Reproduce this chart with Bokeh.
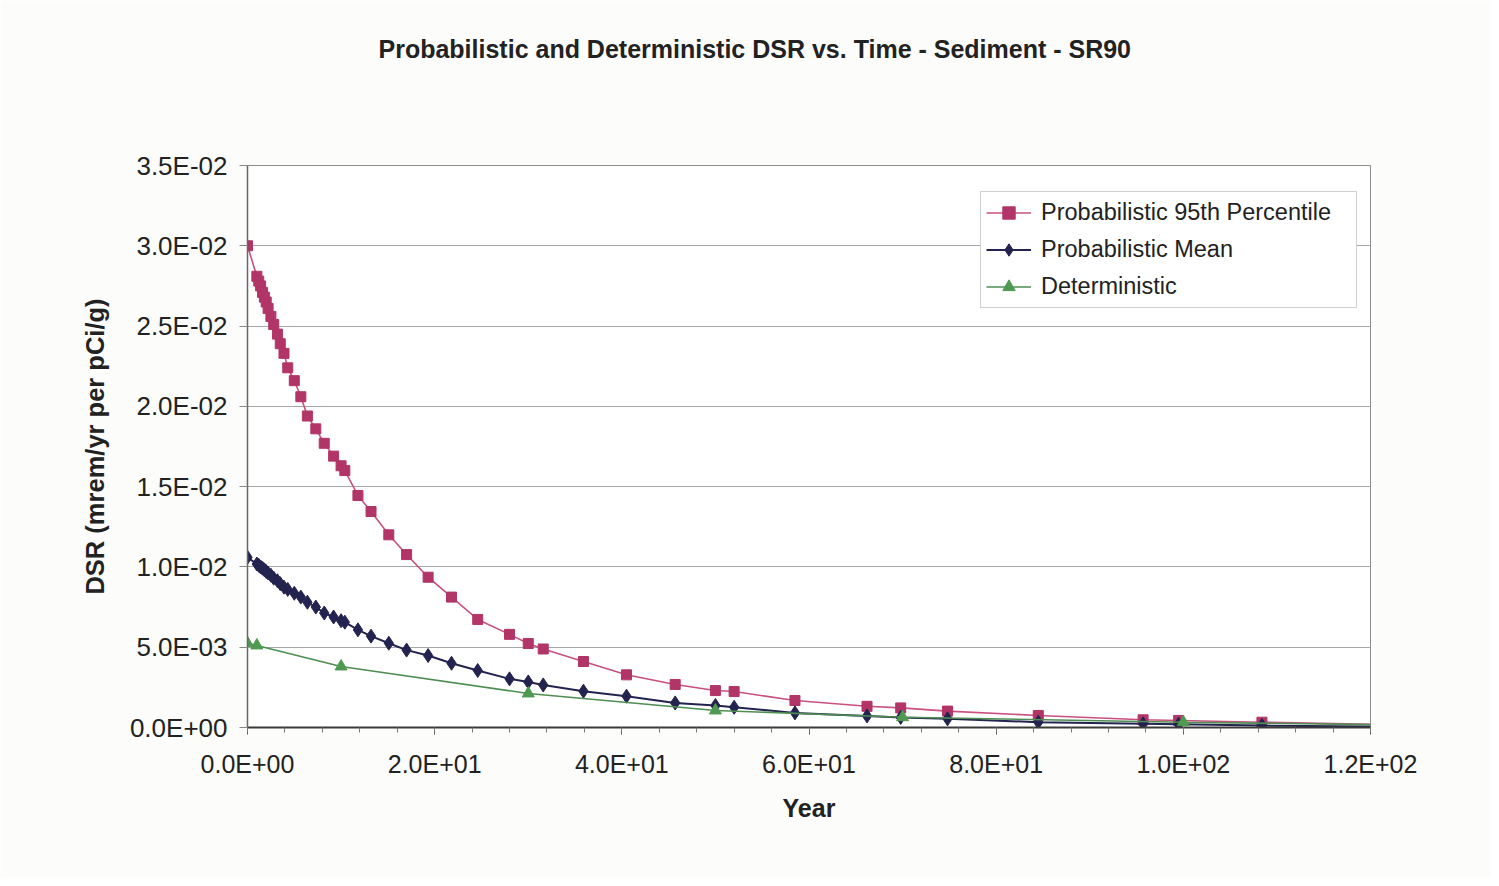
from bokeh.plotting import figure
from bokeh.models import (Range1d, FixedTicker, CustomJSTickFormatter, Legend, LegendItem, Title)
from bokeh.embed import file_html
from bokeh.resources import INLINE

# ---------------- data ----------------
title_text = "Probabilistic and Deterministic DSR vs. Time - Sediment - SR90"
x_label = "Year"
y_label = "DSR (mrem/yr per pCi/g)"
series_names = ["Probabilistic 95th Percentile", "Probabilistic Mean", "Deterministic"]

t_prob = [0, 1.0, 1.2, 1.4, 1.6, 1.8, 2.0, 2.2, 2.5, 2.8, 3.2, 3.5, 3.9, 4.3, 5.0, 5.7,
          6.4, 7.3, 8.2, 9.2, 10.0, 10.4, 11.8, 13.2, 15.1, 17.0, 19.3, 21.8, 24.6, 28.0,
          30.0, 31.6, 35.9, 40.5, 45.7, 50.0, 52.0, 58.5, 66.2, 69.8, 74.8, 84.5, 95.7,
          99.5, 108.4, 120]
p95 = [0.0300, 0.0281, 0.0278, 0.0275, 0.0271, 0.0268, 0.0265, 0.0261, 0.0256, 0.0251,
       0.0245, 0.0239, 0.0233, 0.0224, 0.0216, 0.0206, 0.0194, 0.0186, 0.0177, 0.0169,
       0.0163, 0.0160, 0.01445, 0.01345, 0.0120, 0.01077, 0.00936, 0.00812, 0.00673,
       0.00580, 0.00523, 0.00489, 0.00411, 0.00328, 0.00268, 0.00230, 0.00224, 0.00168,
       0.00132, 0.00122, 0.00102, 0.00075, 0.00048, 0.00044, 0.00033, 0.00020]
pmean = [0.01060, 0.01018, 0.01010, 0.01000, 0.00992, 0.00982, 0.00972, 0.00962, 0.00948,
         0.00930, 0.00914, 0.00896, 0.00874, 0.00860, 0.00836, 0.00812, 0.00780, 0.00750,
         0.00713, 0.00688, 0.00665, 0.00656, 0.00608, 0.00569, 0.00525, 0.00482, 0.00448,
         0.00400, 0.00355, 0.00303, 0.00284, 0.00265, 0.00226, 0.00195, 0.00153, 0.00137,
         0.00126, 0.00091, 0.00072, 0.00063, 0.00054, 0.00033, 0.00023, 0.00020, 0.00012,
         0.00006]
t_det = [0, 1, 10, 30, 50, 70, 100, 120]
det = [0.00525, 0.00511, 0.00380, 0.00212, 0.00106, 0.00064, 0.00033, 0.00018]

x_ticks = [0, 20, 40, 60, 80, 100, 120]
x_tick_labels = ["0.0E+00", "2.0E+01", "4.0E+01", "6.0E+01", "8.0E+01", "1.0E+02", "1.2E+02"]
y_ticks = [0.0, 0.005, 0.01, 0.015, 0.02, 0.025, 0.03, 0.035]
y_tick_labels = ["0.0E+00", "5.0E-03", "1.0E-02", "1.5E-02", "2.0E-02", "2.5E-02", "3.0E-02", "3.5E-02"]

# ---------------- styling ----------------
FONT = "Liberation Sans"
RED_LINE, RED_MARK = "#c9507f", "#b23567"
BLUE = "#23234f"
GREEN_LINE, GREEN_MARK = "#4e8e52", "#4f9a50"

p = figure(width=1491, height=878, output_backend="svg", toolbar_location=None,
           x_range=Range1d(0, 120), y_range=Range1d(0, 0.035),
           min_border_left=247, min_border_right=121, min_border_top=165, min_border_bottom=151)
p.background_fill_color = "white"
p.border_fill_color = "#fcfcfb"
p.outline_line_color = "#8c8c8c"
p.outline_line_width = 1

# title (outermost), with an empty spacer title between it and the frame
p.title.text = title_text
p.title.text_font = FONT
p.title.text_font_style = "bold"
p.title.text_font_size = "25px"
p.title.text_color = "#222222"
p.title.align = "left"
p.title.offset = 131
p.title.vertical_align = "top"
p.title.standoff = 68
spacer = Title(text=" ", text_font=FONT, text_font_size="25px", standoff=37)
p.add_layout(spacer, "above")

# grid
p.xgrid.grid_line_color = None
p.ygrid.grid_line_color = "#a6a6a6"
p.ygrid.grid_line_width = 1
p.ygrid.ticker = FixedTicker(ticks=y_ticks)

fmt_code = """
const i = tk.findIndex(t => Math.abs(t - tick) < 1e-9);
return i >= 0 ? lb[i] : '';
"""

# x axis
p.xaxis.ticker = FixedTicker(ticks=x_ticks, minor_ticks=list(range(0, 121, 4)))
p.xaxis.formatter = CustomJSTickFormatter(args=dict(tk=x_ticks, lb=x_tick_labels), code=fmt_code)
p.xaxis.axis_line_color = "#3a3a3a"
p.xaxis.axis_line_width = 2
p.xaxis.major_tick_line_color = "#555555"
p.xaxis.major_tick_in = 0
p.xaxis.major_tick_out = 7
p.xaxis.minor_tick_line_color = "#777777"
p.xaxis.minor_tick_in = 0
p.xaxis.minor_tick_out = 5
p.xaxis.major_label_text_font = FONT
p.xaxis.major_label_text_font_size = "25px"
p.xaxis.major_label_text_color = "#222222"
p.xaxis.major_label_standoff = 15
p.xaxis.axis_label = x_label
p.xaxis.axis_label_text_font = FONT
p.xaxis.axis_label_text_font_style = "bold"
p.xaxis.axis_label_text_font_size = "25px"
p.xaxis.axis_label_text_color = "#222222"
p.xaxis.axis_label_standoff = 13

# y axis
p.yaxis.ticker = FixedTicker(ticks=y_ticks)
p.yaxis.formatter = CustomJSTickFormatter(args=dict(tk=y_ticks, lb=y_tick_labels), code=fmt_code)
p.yaxis.axis_line_color = "#666666"
p.yaxis.axis_line_width = 1.5
p.yaxis.major_tick_line_color = "#888888"
p.yaxis.major_tick_in = 0
p.yaxis.major_tick_out = 8
p.yaxis.minor_tick_line_color = None
p.yaxis.major_label_text_font = FONT
p.yaxis.major_label_text_font_size = "26px"
p.yaxis.major_label_text_color = "#222222"
p.yaxis.major_label_standoff = 12
p.yaxis.axis_label = y_label
p.yaxis.axis_label_text_font = FONT
p.yaxis.axis_label_text_font_style = "bold"
p.yaxis.axis_label_text_font_size = "25.5px"
p.yaxis.axis_label_text_color = "#222222"
p.yaxis.axis_label_standoff = 18

# series
r1l = p.line(t_prob, p95, line_color=RED_LINE, line_width=1.6)
r1m = p.scatter(t_prob[:-1], p95[:-1], marker="square", size=10, fill_color=RED_MARK,
                line_color=RED_MARK)
r2l = p.line(t_prob, pmean, line_color=BLUE, line_width=2)
r2m = p.scatter(t_prob[:-1], pmean[:-1], marker="diamond", size=14, fill_color=BLUE,
                line_color=BLUE)
r3l = p.line(t_det, det, line_color=GREEN_LINE, line_width=1.6)
r3m = p.scatter(t_det[:-1], det[:-1], marker="triangle", size=12, fill_color=GREEN_MARK,
                line_color=GREEN_MARK)

legend = Legend(items=[
    LegendItem(label=series_names[0], renderers=[r1l, r1m]),
    LegendItem(label=series_names[1], renderers=[r2l, r2m]),
    LegendItem(label=series_names[2], renderers=[r3l, r3m]),
], location=(733, 419))
legend.label_text_font = FONT
legend.label_text_font_size = "23.5px"
legend.label_text_color = "#222222"
legend.glyph_width = 45
legend.glyph_height = 31
legend.label_height = 31
legend.label_standoff = 10
legend.label_width = 310
legend.spacing = 6
legend.padding = 5
legend.margin = 0
legend.border_line_color = "#a0a0a0"
legend.border_line_width = 1
legend.background_fill_color = "white"
legend.background_fill_alpha = 1
p.add_layout(legend)

open("out.html", "w").write(file_html(p, INLINE))
